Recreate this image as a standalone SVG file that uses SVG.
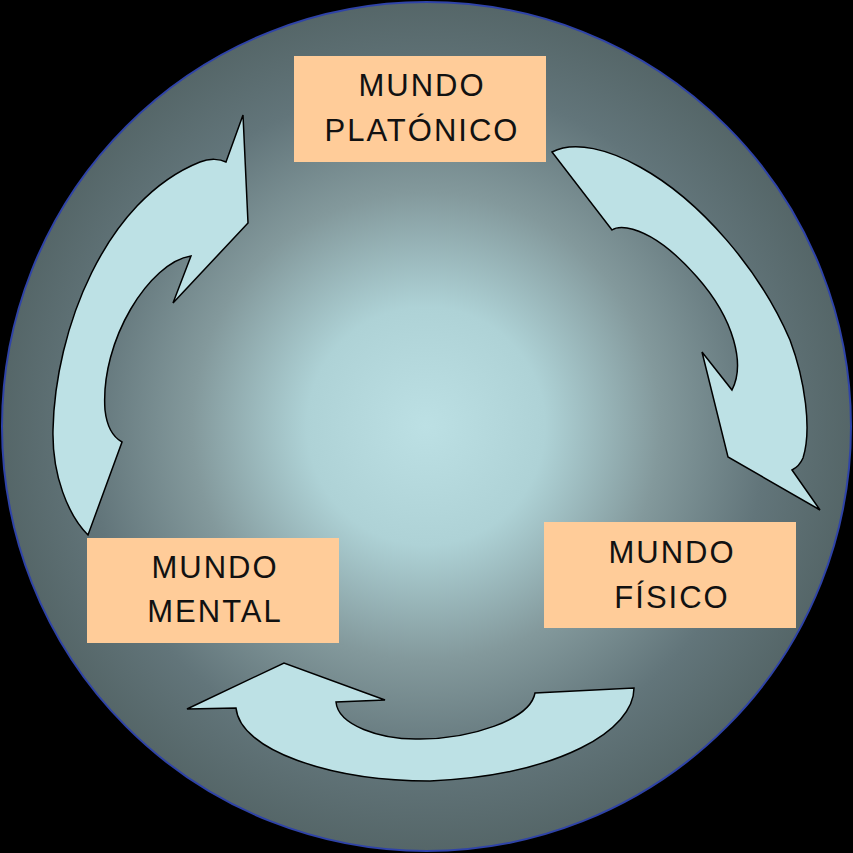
<svg xmlns="http://www.w3.org/2000/svg" width="853" height="853" viewBox="0 0 853 853">
<defs>
<radialGradient id="bg" cx="426" cy="426" r="425" gradientUnits="userSpaceOnUse">
<stop offset="0" stop-color="#bce0e4"/>
<stop offset="0.28" stop-color="#aed2d6"/>
<stop offset="0.55" stop-color="#83999c"/>
<stop offset="0.8" stop-color="#62757a"/>
<stop offset="1" stop-color="#556668"/>
</radialGradient>
<style>
.box{fill:#ffcc99;}
.arrow{fill:#bde1e5;stroke:#000;stroke-width:1.5;stroke-linejoin:miter;}
.lbl{font-family:"Liberation Sans","DejaVu Sans",sans-serif;font-size:31px;fill:#111;text-anchor:middle;letter-spacing:2px;}
</style>
</defs>
<rect width="853" height="853" fill="#000"/>
<circle cx="426.5" cy="426.5" r="424.5" fill="url(#bg)" stroke="#2f43a8" stroke-width="2"/>
<g id="connectors">
<path class="arrow" d="M243,115 L248,223 L173,303 L191,256 C150,262 100,340 105,410 C107,428 113,437 122,442 L88,535 C68,515 52,475 53,430 C55,330 105,200 200,162 C210,158 220,159 226,162 Z"/>
<path class="arrow" d="M552,152 C575,140 610,150 640,167 C700,200 760,270 790,340 C805,380 812,430 803,458 C800,465 796,468 792,470 L820,510 L728,457 L702,352 L732,390 C745,365 735,320 697,277 C675,252 650,232 627,228 C620,227 615,228 612,230 Z"/>
<path class="arrow" d="M187,709 L284,663 L385,700 L336,702 C338,725 380,740 420,739 C470,739 530,720 535,693 L634,688 C634,730 560,775 430,781 C330,781 240,750 236,708 Z"/>
</g>
<g id="node-platonico">
<rect class="box" x="294" y="56" width="252" height="106"/>
<text class="lbl" x="422" y="96">MUNDO</text>
<text class="lbl" x="422" y="141">PLATÓNICO</text>
</g>
<g id="node-fisico">
<rect class="box" x="544" y="522" width="252" height="106"/>
<text class="lbl" x="672" y="563">MUNDO</text>
<text class="lbl" x="672" y="608">FÍSICO</text>
</g>
<g id="node-mental">
<rect class="box" x="87" y="538" width="252" height="105"/>
<text class="lbl" x="215" y="578">MUNDO</text>
<text class="lbl" x="215" y="622">MENTAL</text>
</g>
</svg>
